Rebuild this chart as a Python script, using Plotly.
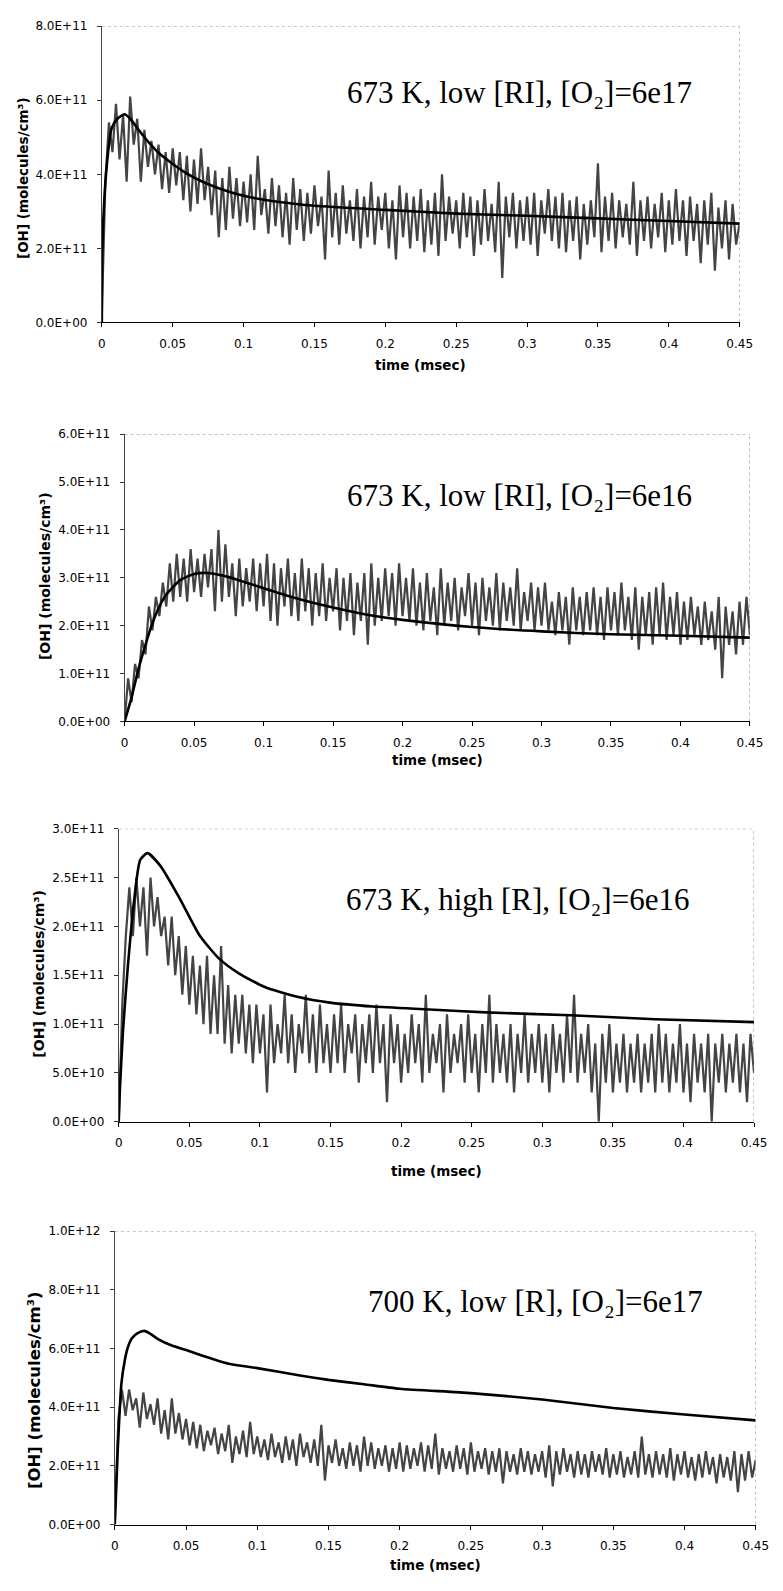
import plotly.graph_objects as go

W, H = 783, 1591
SCALE = 1e11  # data below are in units of 1e11 molecules/cm3

# ---------------- data ----------------
# measured traces are sampled every 0.0025 msec from 0 to 0.45 msec
t_exp = [round(i * 0.0025, 4) for i in range(181)]

exp_p1 = [0.2, 3.8, 5.4, 4.6, 5.9, 4.4, 5.6, 3.8, 6.1, 4.8, 5.5, 3.8, 5.2, 4.2, 4.9, 4.0, 4.8, 3.6, 4.6, 3.5,
          4.7, 3.7, 4.6, 3.3, 4.5, 3.0, 4.4, 3.2, 4.7, 3.3, 4.2, 2.9, 4.1, 2.3, 3.9, 2.5, 4.2, 2.8, 3.9, 2.6,
          3.8, 2.7, 4.0, 2.5, 4.5, 2.9, 3.6, 2.4, 3.9, 2.6, 3.7, 2.3, 3.5, 2.1, 3.9, 2.5, 3.6, 2.2, 3.5, 2.4,
          3.7, 2.6, 3.4, 1.7, 4.1, 2.3, 3.5, 2.1, 3.7, 2.4, 3.3, 2.2, 3.6, 2.0, 3.4, 2.3, 3.8, 2.1, 3.4, 2.5,
          3.5, 2.0, 3.3, 1.7, 3.7, 2.3, 3.5, 2.0, 3.4, 2.2, 3.6, 1.9, 3.3, 2.1, 3.5, 1.8, 4.0, 2.2, 3.4, 2.4,
          3.3, 2.0, 3.5, 2.3, 3.4, 1.8, 3.3, 2.1, 3.6, 2.2, 3.2, 1.9, 3.8, 1.2, 3.4, 2.3, 3.5, 2.0, 3.3, 2.2,
          3.4, 2.1, 3.5, 1.8, 3.3, 2.4, 3.6, 2.2, 3.4, 2.0, 3.5, 1.9, 3.3, 2.2, 3.4, 1.7, 3.2, 2.1, 3.3, 2.3,
          4.3, 1.9, 3.4, 2.2, 3.5, 2.0, 3.3, 2.3, 3.2, 2.1, 3.8, 1.8, 3.3, 2.2, 3.4, 2.0, 3.2, 2.3, 3.5, 1.9,
          3.3, 2.1, 3.6, 2.2, 3.3, 1.8, 3.4, 2.2, 3.2, 1.6, 3.3, 2.1, 3.5, 1.4, 3.1, 2.0, 3.3, 1.7, 3.2, 2.1,
          2.7]
model_t_p1 = [0, 0.0005, 0.0034, 0.007, 0.011, 0.016, 0.02, 0.025, 0.03, 0.035, 0.04, 0.05, 0.06, 0.07,
              0.08, 0.1, 0.12, 0.15, 0.2, 0.25, 0.3, 0.35, 0.4, 0.45]
model_p1 = [0, 2.2, 4.2, 5.25, 5.5, 5.62, 5.5, 5.25, 5.0, 4.78, 4.58, 4.28, 4.02, 3.82,
            3.66, 3.42, 3.28, 3.15, 3.04, 2.94, 2.88, 2.81, 2.74, 2.67]

exp_p2 = [0.0, 0.9, 0.4, 1.2, 0.9, 1.7, 1.4, 2.4, 1.9, 2.6, 2.2, 2.9, 2.4, 3.3, 2.5, 3.5, 2.6, 3.4, 2.5, 3.6,
          2.7, 3.4, 2.6, 3.5, 2.8, 3.6, 2.3, 4.0, 2.5, 3.7, 2.6, 3.3, 2.2, 3.4, 2.4, 3.2, 2.5, 3.4, 2.3, 3.3,
          2.4, 3.5, 2.1, 3.3, 2.0, 3.2, 2.4, 3.4, 2.2, 3.1, 2.1, 3.4, 2.3, 3.2, 2.0, 3.1, 2.2, 3.3, 2.1, 3.0,
          2.3, 3.2, 1.9, 3.0, 2.1, 3.1, 1.8, 2.9, 2.1, 3.1, 1.6, 3.3, 2.0, 3.0, 2.1, 3.2, 2.2, 3.1, 2.0, 3.3,
          2.2, 3.0, 2.1, 3.2, 2.0, 2.9, 1.9, 3.1, 2.1, 2.8, 1.8, 3.2, 2.0, 2.9, 2.1, 3.0, 1.9, 2.8, 2.2, 3.1,
          2.0, 2.9, 1.8, 3.0, 2.1, 2.8, 2.0, 3.1, 1.9, 2.9, 2.1, 2.8, 2.0, 3.2, 1.9, 2.7, 2.1, 2.9, 1.9, 2.8,
          2.0, 2.9, 1.9, 2.5, 1.8, 2.7, 1.9, 2.6, 1.6, 2.8, 1.9, 2.6, 1.8, 2.7, 1.9, 2.8, 1.8, 2.6, 1.7, 2.8,
          1.9, 2.7, 1.8, 2.9, 1.9, 2.6, 1.7, 2.8, 1.5, 2.6, 1.8, 2.7, 1.6, 2.8, 1.8, 2.9, 1.7, 2.6, 1.8, 2.7,
          1.6, 2.5, 1.7, 2.6, 1.8, 2.4, 1.6, 2.5, 1.7, 2.3, 1.5, 2.6, 0.9, 2.4, 1.6, 2.3, 1.4, 2.5, 1.6, 2.6,
          1.8]
model_t_p2 = [0, 0.005, 0.01, 0.015, 0.02, 0.025, 0.03, 0.04, 0.05, 0.06, 0.07, 0.08, 0.1, 0.12, 0.15,
              0.18, 0.2, 0.25, 0.3, 0.35, 0.4, 0.45]
model_p2 = [0, 0.5, 1.1, 1.6, 2.05, 2.4, 2.65, 2.95, 3.08, 3.1, 3.05, 2.97, 2.78, 2.6, 2.38,
            2.2, 2.12, 1.97, 1.88, 1.82, 1.79, 1.75]

exp_p3 = [0.0, 1.2, 1.9, 2.4, 1.9, 2.5, 2.0, 2.4, 1.7, 2.5, 2.0, 2.3, 1.9, 2.1, 1.6, 2.1, 1.5, 1.9, 1.3, 1.8,
          1.2, 1.7, 1.1, 1.6, 1.0, 1.7, 0.9, 1.5, 0.9, 1.8, 0.8, 1.4, 0.7, 1.3, 0.8, 1.3, 0.7, 1.2, 0.6, 1.2,
          0.7, 1.1, 0.3, 1.2, 0.6, 1.0, 0.7, 1.3, 0.6, 1.1, 0.5, 1.0, 0.7, 1.3, 0.6, 1.1, 0.5, 1.2, 0.6, 1.0,
          0.5, 1.1, 0.6, 1.2, 0.5, 1.0, 0.7, 1.1, 0.4, 1.0, 0.6, 1.1, 0.5, 1.2, 0.6, 1.0, 0.2, 1.1, 0.6, 1.0,
          0.4, 0.9, 0.5, 1.1, 0.6, 1.0, 0.4, 1.3, 0.5, 0.9, 0.6, 1.0, 0.3, 1.1, 0.5, 0.9, 0.6, 1.0, 0.4, 1.1,
          0.5, 0.9, 0.3, 1.0, 0.5, 1.3, 0.4, 1.0, 0.5, 0.9, 0.4, 1.0, 0.3, 0.9, 0.5, 1.1, 0.4, 0.9, 0.5, 1.0,
          0.4, 0.9, 0.3, 1.0, 0.5, 0.9, 0.4, 1.1, 0.5, 1.3, 0.4, 0.9, 0.5, 1.0, 0.3, 0.8, 0.0, 0.9, 0.4, 1.0,
          0.3, 0.8, 0.4, 0.9, 0.3, 0.8, 0.4, 0.9, 0.3, 0.8, 0.4, 0.9, 0.3, 1.0, 0.4, 0.9, 0.3, 0.8, 0.4, 1.0,
          0.3, 0.8, 0.2, 0.9, 0.4, 0.8, 0.3, 0.9, 0.0, 0.8, 0.4, 0.9, 0.3, 0.8, 0.4, 0.9, 0.3, 0.8, 0.2, 0.9,
          0.5]
model_t_p3 = [0, 0.0007, 0.003, 0.0065, 0.011, 0.0152, 0.0203, 0.0295, 0.0434, 0.0572, 0.0711, 0.085,
              0.1034, 0.1265, 0.1496, 0.18, 0.22, 0.26, 0.32, 0.38, 0.45]
model_p3 = [0, 0.3, 0.93, 1.6, 2.28, 2.68, 2.75, 2.62, 2.28, 1.91, 1.67, 1.52,
            1.38, 1.28, 1.22, 1.18, 1.15, 1.12, 1.09, 1.05, 1.02]

exp_p4 = [0.3, 3.6, 4.6, 3.7, 4.6, 3.9, 4.3, 3.3, 4.5, 3.6, 4.1, 3.4, 4.3, 3.1, 3.9, 2.9, 4.3, 3.1, 3.8, 2.9,
          3.6, 2.7, 3.5, 2.6, 3.4, 2.5, 3.2, 2.7, 3.3, 2.4, 3.1, 2.5, 3.4, 2.1, 3.0, 2.4, 3.2, 2.3, 3.5, 2.4,
          3.0, 2.3, 2.9, 2.2, 3.1, 2.3, 2.8, 2.1, 3.0, 2.2, 2.9, 2.0, 3.1, 2.3, 2.8, 2.1, 2.9, 2.0, 3.4, 1.5,
          2.7, 2.1, 2.9, 2.0, 2.6, 1.9, 2.8, 2.0, 2.7, 1.8, 3.0, 2.0, 2.8, 1.9, 2.6, 2.0, 2.7, 1.8, 2.6, 1.9,
          2.8, 1.8, 2.7, 1.9, 2.6, 2.0, 2.8, 1.8, 2.7, 1.9, 3.1, 1.7, 2.6, 1.9, 2.5, 1.8, 2.7, 1.9, 2.6, 1.7,
          2.8, 1.8, 2.5, 1.9, 2.6, 1.7, 2.5, 1.8, 2.6, 1.4, 2.5, 1.8, 2.4, 1.7, 2.6, 1.8, 2.5, 1.7, 2.4, 1.8,
          2.5, 1.6, 2.7, 1.3, 2.5, 1.7, 2.6, 1.8, 2.4, 1.6, 2.5, 1.7, 2.4, 1.6, 2.5, 1.8, 2.4, 1.7, 2.6, 1.6,
          2.4, 1.7, 2.5, 1.6, 2.3, 1.7, 2.5, 1.6, 3.0, 1.7, 2.4, 1.6, 2.5, 1.7, 2.4, 1.6, 2.6, 1.5, 2.4, 1.7,
          2.5, 1.6, 2.3, 1.5, 2.4, 1.6, 2.5, 1.7, 2.3, 1.4, 2.4, 1.6, 2.3, 1.5, 2.5, 1.1, 2.4, 1.5, 2.5, 1.6,
          2.2]
model_t_p4 = [0, 0.002, 0.0046, 0.007, 0.0092, 0.012, 0.016, 0.0206, 0.025, 0.03, 0.04, 0.05, 0.06, 0.08,
              0.1, 0.13, 0.15, 0.175, 0.2, 0.25, 0.3, 0.35, 0.4, 0.45]
model_p4 = [0, 2.5, 4.8, 5.6, 6.05, 6.35, 6.52, 6.6, 6.5, 6.33, 6.1, 5.95, 5.78, 5.48,
            5.33, 5.08, 4.93, 4.78, 4.63, 4.48, 4.26, 3.97, 3.75, 3.55]

x_tickvals = [0, 0.05, 0.1, 0.15, 0.2, 0.25, 0.3, 0.35, 0.4, 0.45]
x_ticktext = ["0", "0.05", "0.1", "0.15", "0.2", "0.25", "0.3", "0.35", "0.4", "0.45"]

y_ticks_p1 = [0, 2e11, 4e11, 6e11, 8e11]
y_text_p1 = ["0.0E+00", "2.0E+11", "4.0E+11", "6.0E+11", "8.0E+11"]
y_ticks_p2 = [0, 1e11, 2e11, 3e11, 4e11, 5e11, 6e11]
y_text_p2 = ["0.0E+00", "1.0E+11", "2.0E+11", "3.0E+11", "4.0E+11", "5.0E+11", "6.0E+11"]
y_ticks_p3 = [0, 5e10, 1e11, 1.5e11, 2e11, 2.5e11, 3e11]
y_text_p3 = ["0.0E+00", "5.0E+10", "1.0E+11", "1.5E+11", "2.0E+11", "2.5E+11", "3.0E+11"]
y_ticks_p4 = [0, 2e11, 4e11, 6e11, 8e11, 1e12]
y_text_p4 = ["0.0E+00", "2.0E+11", "4.0E+11", "6.0E+11", "8.0E+11", "1.0E+12"]

labels = ["673 K, low [RI], [O₂]=6e17",
          "673 K, low [RI], [O₂]=6e16",
          "673 K, high [R], [O₂]=6e16",
          "700 K, low [R], [O₂]=6e17"]
x_title = "time (msec)"
y_title = "[OH] (molecules/cm³)"

# ---------------- layout (pixel geometry) ----------------
panels = [
    dict(exp=exp_p1, mt=model_t_p1, m=model_p1, ymax=8e11, yt=y_ticks_p1, ytt=y_text_p1,
         px0=100, px1=752, py0=19.3, py1=318.3, lab=(527, 86), ttl_y=361, yttl=(20, 173, 13.5)),
    dict(exp=exp_p2, mt=model_t_p2, m=model_p2, ymax=6e11, yt=y_ticks_p2, ytt=y_text_p2,
         px0=123.3, px1=762.5, py0=431, py1=720.7, lab=(527, 493), ttl_y=760, yttl=(42, 574, 14)),
    dict(exp=exp_p3, mt=model_t_p3, m=model_p3, ymax=3e11, yt=y_ticks_p3, ytt=y_text_p3,
         px0=117.3, px1=766.7, py0=829, py1=1124.7, lab=(525, 900), ttl_y=1174, yttl=(36, 975, 14)),
    dict(exp=exp_p4, mt=model_t_p4, m=model_p4, ymax=1e12, yt=y_ticks_p4, ytt=y_text_p4,
         px0=113.3, px1=768.4, py0=1235, py1=1531, lab=(543, 1306), ttl_y=1572, yttl=(31, 1395, 16.5)),
]

def fx(x):
    return x / W

def fy(y):
    return 1 - y / H

fig = go.Figure()
annotations = []
shapes = []
TICKFONT = dict(family="DejaVu Sans, Arial, sans-serif", size=12, color="black")

for k, p in enumerate(panels, start=1):
    xa = "x" if k == 1 else f"x{k}"
    ya = "y" if k == 1 else f"y{k}"
    fig.add_trace(go.Scatter(x=t_exp, y=[v * SCALE for v in p["exp"]], mode="lines",
                             line=dict(color="#444444", width=2.2), xaxis=xa, yaxis=ya,
                             showlegend=False, hoverinfo="skip"))
    fig.add_trace(go.Scatter(x=p["mt"], y=[v * SCALE for v in p["m"]], mode="lines",
                             line=dict(color="black", width=2.6, shape="spline", smoothing=0.6),
                             xaxis=xa, yaxis=ya, showlegend=False, hoverinfo="skip"))
    xkey = "xaxis" if k == 1 else f"xaxis{k}"
    ykey = "yaxis" if k == 1 else f"yaxis{k}"
    fig.layout[xkey] = dict(domain=[fx(p["px0"]), fx(p["px1"])], anchor=ya, range=[0, 0.45],
                            tickvals=x_tickvals, ticktext=x_ticktext, ticks="outside", ticklen=4,
                            tickcolor="black", showline=True, linecolor="black", linewidth=1,
                            showgrid=False, zeroline=False, tickfont=TICKFONT,
                            ticklabelstandoff=6, fixedrange=True)
    fig.layout[ykey] = dict(domain=[fy(p["py1"]), fy(p["py0"])], anchor=xa, range=[0, p["ymax"]],
                            tickvals=p["yt"], ticktext=p["ytt"], ticks="outside", ticklen=4,
                            tickcolor="#333", showline=True, linecolor="#444", linewidth=1,
                            showgrid=False, zeroline=False, tickfont=TICKFONT,
                            ticklabelstandoff=7, fixedrange=True)
    # dotted top and right border of plot area
    shapes.append(dict(type="line", xref=xa, yref=ya, x0=0, x1=0.45, y0=p["ymax"], y1=p["ymax"],
                       line=dict(color="#8a8a8a", width=1, dash="dot")))
    shapes.append(dict(type="line", xref=xa, yref=ya, x0=0.45, x1=0.45, y0=0, y1=p["ymax"],
                       line=dict(color="#8a8a8a", width=1, dash="dot")))
    # panel label
    annotations.append(dict(text=labels[k - 1], xref="paper", yref="paper",
                            x=fx(p["lab"][0]), y=fy(p["lab"][1]), xanchor="center", yanchor="middle",
                            showarrow=False,
                            font=dict(family="Liberation Serif, Times New Roman, serif", size=31,
                                      color="black")))
    # x axis title
    annotations.append(dict(text=x_title, xref="paper", yref="paper",
                            x=fx((p["px0"] + p["px1"]) / 2), y=fy(p["ttl_y"]),
                            xanchor="center", yanchor="middle", showarrow=False,
                            font=dict(family="DejaVu Sans, Arial, sans-serif", size=13.5,
                                      color="black", weight="bold")))
    # y axis title
    annotations.append(dict(text=y_title, xref="paper", yref="paper",
                            x=fx(p["yttl"][0]), y=fy(p["yttl"][1]), xanchor="center",
                            yanchor="middle", textangle=-90, showarrow=False,
                            font=dict(family="DejaVu Sans, Arial, sans-serif", size=p["yttl"][2],
                                      color="black", weight="bold")))

fig.update_layout(width=W, height=H, autosize=False, margin=dict(l=0, r=0, t=0, b=0),
                  paper_bgcolor="white", plot_bgcolor="white",
                  annotations=annotations, shapes=shapes)

fig.write_html("out.html")
